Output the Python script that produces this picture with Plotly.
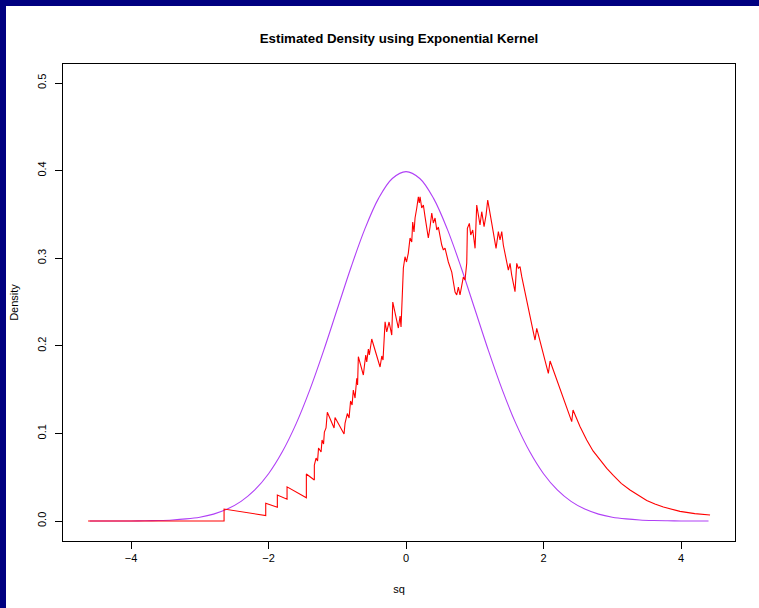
import plotly.graph_objects as go

# ---- data ----
red_x = [-4.625, -2.647, -2.647, -2.041, -2.041, -1.872, -1.872, -1.731, -1.731, -1.450,
         -1.450, -1.334, -1.334, -1.309, -1.287, -1.273, -1.236, -1.222, -1.200, -1.188,
         -1.164, -1.145, -1.047, -1.033, -0.902, -0.887, -0.854, -0.829, -0.807, -0.785,
         -0.767, -0.742, -0.717, -0.705, -0.694, -0.621, -0.604, -0.586, -0.572, -0.548,
         -0.534, -0.499, -0.378, -0.353, -0.335, -0.305, -0.281, -0.247, -0.208, -0.193,
         -0.112, -0.087, -0.073, -0.048, -0.039, -0.015, 0.007, 0.033, 0.058, 0.083,
         0.097, 0.116, 0.131, 0.156, 0.179, 0.193, 0.204, 0.228, 0.252, 0.276,
         0.324, 0.349, 0.374, 0.397, 0.422, 0.447, 0.470, 0.519, 0.543, 0.567,
         0.615, 0.665, 0.713, 0.737, 0.761, 0.785, 0.810, 0.833, 0.858, 0.883,
         0.892, 0.921, 0.941, 0.970, 0.989, 1.004, 1.028, 1.076, 1.101, 1.135,
         1.164, 1.188, 1.247, 1.309, 1.343, 1.367, 1.392, 1.415, 1.488, 1.513,
         1.537, 1.585, 1.610, 1.633, 1.658, 1.683, 1.876, 1.901, 2.070, 2.095,
         2.410, 2.429, 2.530, 2.628, 2.720, 2.822, 2.920, 3.015, 3.130, 3.258,
         3.380, 3.501, 3.620, 3.743, 3.985, 4.200, 4.422]
red_y = [0.0, 0.0, 0.0137, 0.0063, 0.0202, 0.0158, 0.0297, 0.0249, 0.0390, 0.0265,
         0.0537, 0.0468, 0.0639, 0.0719, 0.0685, 0.0833, 0.0788, 0.0925, 0.0879, 0.1016,
         0.1062, 0.1241, 0.1062, 0.1182, 0.0993, 0.1119, 0.1227, 0.1176, 0.1370, 0.1324,
         0.1495, 0.1404, 0.1629, 0.1553, 0.1876, 0.1667, 0.1781, 0.1895, 0.1815, 0.1963,
         0.1895, 0.2078, 0.1758, 0.1884, 0.1838, 0.2275, 0.2158, 0.2272, 0.2123, 0.2500,
         0.2203, 0.2340, 0.2215, 0.2717, 0.2888, 0.3017, 0.2957, 0.3059, 0.3231, 0.3185,
         0.3413, 0.3299, 0.3459, 0.3573, 0.3702, 0.3630, 0.3702, 0.3573, 0.3607, 0.3474,
         0.3231, 0.3356, 0.3516, 0.3402, 0.3459, 0.3322, 0.3356, 0.3151, 0.3094, 0.3116,
         0.2957, 0.2842, 0.2614, 0.2580, 0.2671, 0.2580, 0.2671, 0.2785, 0.2751, 0.2945,
         0.3341, 0.3398, 0.3265, 0.3322, 0.3208, 0.3113, 0.3607, 0.3379, 0.3531, 0.3360,
         0.3493, 0.3664, 0.3398, 0.3113, 0.3303, 0.3208, 0.3303, 0.3151, 0.2865, 0.2942,
         0.2808, 0.2618, 0.2942, 0.2885, 0.2903, 0.2789, 0.2066, 0.2200, 0.1686, 0.1826,
         0.1134, 0.1267, 0.1080, 0.0925, 0.0800, 0.0695, 0.0600, 0.0520, 0.0430, 0.0355,
         0.0290, 0.0235, 0.0195, 0.0160, 0.0110, 0.0085, 0.0068]

normal_x = [-4.6, -4.4, -4.2, -4.0, -3.8, -3.6, -3.4, -3.2, -3.0, -2.8, -2.6, -2.4,
            -2.2, -2.0, -1.8, -1.6, -1.4, -1.2, -1.0, -0.8, -0.6, -0.4, -0.2, 0.0,
            0.2, 0.4, 0.6, 0.8, 1.0, 1.2, 1.4, 1.6, 1.8, 2.0, 2.2, 2.4, 2.6, 2.8,
            3.0, 3.2, 3.4, 3.6, 3.8, 4.0, 4.2, 4.4]
normal_y = [0.0, 0.0, 0.0, 0.0001, 0.0003, 0.0006, 0.0012, 0.0024, 0.0044, 0.0079, 0.0136, 0.0224,
            0.0355, 0.0540, 0.0790, 0.1109, 0.1497, 0.1942, 0.2420, 0.2897, 0.3332, 0.3683, 0.3910, 0.3989,
            0.3910, 0.3683, 0.3332, 0.2897, 0.2420, 0.1942, 0.1497, 0.1109, 0.0790, 0.0540, 0.0355, 0.0224, 0.0136, 0.0079,
            0.0044, 0.0024, 0.0012, 0.0006, 0.0003, 0.0001, 0.0, 0.0]

x_ticks = [-4, -2, 0, 2, 4]
x_tick_labels = ["\u22124", "\u22122", "0", "2", "4"]
y_ticks = [0.0, 0.1, 0.2, 0.3, 0.4, 0.5]

title_text = "Estimated Density using Exponential Kernel"
x_title = "sq"
y_title = "Density"

FONT = "Liberation Sans, Arial, Helvetica, sans-serif"

fig = go.Figure()
fig.add_trace(go.Scatter(x=normal_x, y=normal_y, mode="lines",
                         line=dict(color="#B040F6", width=1.1, shape="spline"),
                         showlegend=False, hoverinfo="skip"))
fig.add_trace(go.Scatter(x=red_x, y=red_y, mode="lines",
                         line=dict(color="#FF0000", width=1.1),
                         showlegend=False, hoverinfo="skip"))

L, R, T, B = 63, 24, 64, 67
W, H = 759, 608
pw, ph = W - L - R, H - T - B

def px_x(p):
    return (p - L) / pw

def px_y(p):
    return (H - B - p) / ph

navy = "#000080"
fig.update_layout(
    width=W, height=H,
    margin=dict(l=L, r=R, t=T, b=B, pad=0),
    paper_bgcolor="white", plot_bgcolor="white",
    font=dict(family=FONT, size=11, color="black"),
    title=dict(text="<b>" + title_text + "</b>", x=0.5 * (L + (W - R)) / W, xanchor="center",
               y=1 - 38 / H, yanchor="middle", yref="container",
               font=dict(family=FONT, size=13.3, color="black")),
    xaxis=dict(range=[-4.99, 4.785], tickvals=x_ticks, ticktext=x_tick_labels,
               ticks="outside", ticklen=7, tickwidth=1, tickcolor="black",
               showline=True, linecolor="black", linewidth=1, mirror=True,
               showgrid=False, zeroline=False,
               title=dict(text=x_title, standoff=22, font=dict(size=11)),
               tickfont=dict(size=11)),
    yaxis=dict(range=[-0.0228, 0.5217], tickvals=y_ticks, tickformat=".1f",
               ticks="outside", ticklen=7, tickwidth=1, tickcolor="black", tickangle=-90,
               ticklabelstandoff=5,
               showline=True, linecolor="black", linewidth=1, mirror=True,
               showgrid=False, zeroline=False,
               title=dict(text=y_title, standoff=14, font=dict(size=11)),
               tickfont=dict(size=11)),
    shapes=[
        dict(type="rect", xref="paper", yref="paper", x0=px_x(0), x1=px_x(6),
             y0=px_y(H), y1=px_y(0), fillcolor=navy, line=dict(width=0), layer="above"),
        dict(type="rect", xref="paper", yref="paper", x0=px_x(0), x1=px_x(W),
             y0=px_y(6), y1=px_y(0), fillcolor=navy, line=dict(width=0), layer="above"),
    ],
)

fig.write_html("out.html")
